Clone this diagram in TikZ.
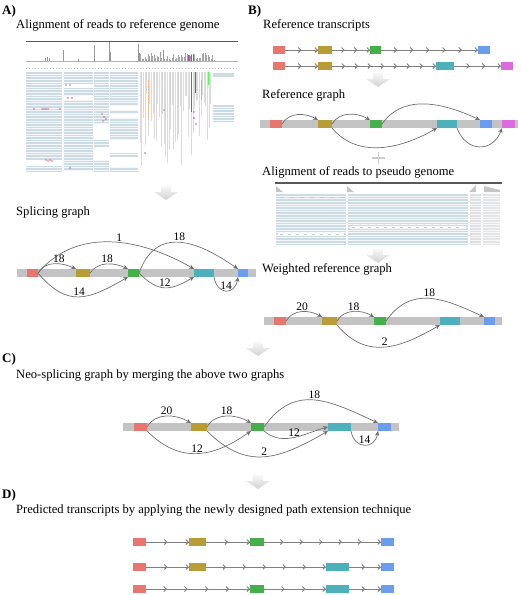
\documentclass[tikz,border=0pt]{standalone}
\usepackage{fontspec}
\setmainfont{Liberation Serif}
\usetikzlibrary{arrows.meta,decorations.markings}
\definecolor{exred}{HTML}{E8766E}
\definecolor{exgold}{HTML}{B89C36}
\definecolor{exgreen}{HTML}{45B04A}
\definecolor{excyan}{HTML}{4DB1BC}
\definecolor{exblue}{HTML}{6A9CF0}
\definecolor{expink}{HTML}{DE6BDE}
\definecolor{bargray}{HTML}{C3C3C3}
\definecolor{arcgray}{HTML}{707070}
\definecolor{readblue}{HTML}{CCDBE4}
\begin{document}
\begin{tikzpicture}[x=1pt,y=-1pt,
  ex/.style={minimum height=8pt,inner sep=0pt,outer sep=0pt},
  bar/.style={fill=bargray},
  arc/.style={arcgray,line width=0.7pt,-{Stealth[length=5pt,width=4.5pt]}},
  wt/.style={text=black,font=\fontsize{11.5}{11.5}\selectfont,inner sep=1pt},
  ttl/.style={anchor=base west,font=\fontsize{12.6}{12.6}\selectfont,inner sep=0pt},
  lbl/.style={anchor=base west,font=\fontsize{13}{13}\selectfont\bfseries,inner sep=0pt},
  tline/.style={draw=gray,line width=0.9pt},
  chev/.style={postaction={decorate,decoration={markings,
    mark=between positions #1 and 1 step #1 with {\arrow[gray]{Straight Barb[length=2.5pt,width=5pt]}}}}},
  downarr/.style={top color=gray!6,bottom color=gray!35,draw=none},
  stripe/.style={white!80!readblue,line width=0.4pt}]
\useasboundingbox (0,0) rectangle (520,595);

\node[lbl] (labA) at (2,14) {A)};
\node[ttl] (ttlA) at (16,28) {Alignment of reads to reference genome};
\node[ttl] (ttlAs) at (16,215) {Splicing graph};
\node[lbl] (labB) at (248,14) {B)};
\node[ttl] (ttlBt) at (263,28) {Reference transcripts};
\node[ttl] (ttlBg) at (262,98) {Reference graph};
\node[ttl] (ttlBa) at (262,175) {Alignment of reads to pseudo genome};
\node[ttl] (ttlBw) at (262,272) {Weighted reference graph};
\node[lbl] (labC) at (2,362) {C)};
\node[ttl] (ttlC) at (16,378) {Neo-splicing graph by merging the above two graphs};
\node[lbl] (labD) at (2,498) {D)};
\node[ttl] (ttlD) at (16,513) {Predicted transcripts by applying the newly designed path extension technique};

\foreach \cx/\ty in {166/186,378/73,378/249,258/342,258/475}
  \shade[downarr] (\cx-5,\ty) -- (\cx+5,\ty) -- (\cx+5,\ty+6) -- (\cx+12,\ty+6)
    -- (\cx,\ty+14) -- (\cx-12,\ty+6) -- (\cx-5,\ty+6) -- cycle;

\draw[gray!70!black,line width=1pt] (26,41) -- (238,41);
\draw[gray!60,line width=0.4pt] (26,61) -- (238,61);
\foreach \xx/\yt in {63/50,94/45,109/42,110/52,138/44,139/53,45/58,47/57,49/58,78/59,160/52,163/50}
  \draw[gray!80,line width=0.8pt] (\xx,61) -- (\xx,\yt);
\pgfmathsetseed{7}
\foreach \xx in {140.5,142,...,214} {
  \pgfmathsetmacro\yt{60-7*rnd}
  \draw[gray!70,line width=0.8pt] (\xx,61) -- (\xx,\yt);
}
\foreach \xx/\cc in {188/violet,189.5/red,191/violet,193/violet}
  \draw[\cc!70,line width=0.8pt] (\xx,61) -- (\xx,55);
\draw[gray!50,dash pattern=on 1pt off 2pt] (26,68) -- (238,68);
\fill[readblue] (26,72) rectangle (62,172);
\fill[readblue] (63.5,72) rectangle (92.5,170);
\fill[readblue] (94,72) rectangle (108.5,172);
\fill[readblue] (110,72) rectangle (137.5,172);
\fill[readblue] (213,73) rectangle (234,77);
\fill[readblue] (213,105) rectangle (234,123);
\foreach \yy in {74,76.6,...,172}
  \draw[stripe] (26,\yy) -- (138,\yy);
\foreach \yy in {107,109.6,...,123}
  \draw[stripe] (213,\yy) -- (234,\yy);
\fill[white] (94,124) rectangle (108.5,140);
\fill[white] (94,147) rectangle (108.5,160);
\fill[white] (110,140) rectangle (137.5,153);
\fill[white] (110,157) rectangle (137.5,167);
\fill[white] (26,160) rectangle (62,166);
\fill[white] (63.5,84) rectangle (92.5,88);
\fill[white] (63.5,96) rectangle (92.5,100);
\fill[white] (110,106) rectangle (137.5,110);
\fill[white] (110,114) rectangle (137.5,118);
\pgfmathsetseed{11}
\foreach \xx in {140,141.6,...,212} {
  \pgfmathsetmacro\yb{90+80*rnd}
  \draw[gray!28,line width=0.35pt] (\xx,72) -- (\xx,\yb);
}
\draw[violet!70,line width=1pt] (191,72) -- (191,112);
\draw[green!70!black,line width=1pt] (195,72) -- (195,93);
\draw[orange!70,line width=1pt] (201,80) -- (201,100);
\draw[green!70,line width=1pt] (208,72) -- (208,85);
\draw[orange!60,line width=1pt,dash pattern=on 2pt off 1pt] (148,80) -- (148,120);
\foreach \xx/\yy in {66/85,70/85,68/98,72/98,34/109,44/109,46/109,60/109,
  104/117,106/119,46/160,50/160,70/168,164/110,194/112,194/118,196/124,145/153}
  \fill[violet!60] (\xx,\yy) circle (0.9);
\foreach \xx/\yy in {42/109,48/109,102/114,48/161,52/161,103/121}
  \fill[red!60] (\xx,\yy) circle (0.9);

\node[ex,fill=exred,minimum width=12pt] (t1r) at (279,50) {};
\node[ex,fill=exgold,minimum width=14pt] (t1g) at (325,50) {};
\node[ex,fill=exgreen,minimum width=11pt] (t1n) at (375.5,50) {};
\node[ex,fill=exblue,minimum width=12pt] (t1b) at (484,50) {};
\node[ex,fill=exred,minimum width=12pt] (t2r) at (279,66) {};
\node[ex,fill=exgold,minimum width=14pt] (t2g) at (325,66) {};
\node[ex,fill=excyan,minimum width=18pt] (t2c) at (445,66) {};
\node[ex,fill=expink,minimum width=12pt] (t2m) at (507,66) {};
\draw[tline,chev=0.5] (t1r) -- (t1g);
\draw[tline,chev=0.333] (t1g) -- (t1n);
\draw[tline,chev=0.1666] (t1n) -- (t1b);
\draw[tline,chev=0.5] (t2r) -- (t2g);
\draw[tline,chev=0.125] (t2g) -- (t2c);
\draw[tline,chev=0.333] (t2c) -- (t2m);

\fill[bar] (260,120) rectangle (518,128);
\node[ex,fill=exred,minimum width=12pt] (br) at (276,124) {};
\node[ex,fill=exgold,minimum width=14pt] (bg) at (325,124) {};
\node[ex,fill=exgreen,minimum width=12pt] (bn) at (376,124) {};
\node[ex,fill=excyan,minimum width=20pt] (bc) at (447,124) {};
\node[ex,fill=exblue,minimum width=12pt] (bb) at (486,124) {};
\node[ex,fill=expink,minimum width=13pt] (bm) at (508.5,124) {};
\draw[arc] (br.east) to[out=60,in=150] (bg.north west);
\draw[arc] (bg.east) to[out=60,in=150] (bn.north west);
\draw[arc] (bn.east) to[out=55,in=155] (bb.north west);
\draw[arc] (bg.south east) to[out=-50,in=-150] (bc.south west);
\draw[arc] (bc.south east) to[out=-70,in=-110,looseness=1.5] (bm.south west);

\draw[gray!40,line width=1.4pt] (372,158) -- (385,158) (378.5,152) -- (378.5,164);

\draw[gray!70!black,line width=1.2pt] (275,183) -- (502,183);
\fill[gray!45] (276,192) -- (276,186) -- (283,192) -- cycle;
\fill[gray!45] (347,192) -- (347,186) -- (354,192) -- cycle;
\fill[gray!45] (469,192) -- (476,185) -- (476,192) -- cycle;
\fill[gray!45] (484,192) -- (484,186) -- (500,190) -- (500,192) -- cycle;
\fill[readblue] (276,194) rectangle (346,245);
\fill[readblue] (348,194) rectangle (468,245);
\fill[gray!25] (470,194) rectangle (481,245);
\fill[gray!20] (483,194) rectangle (500,245);
\foreach \yy in {196,198.6,...,245}
  \draw[stripe] (276,\yy) -- (500,\yy);
\fill[white] (350,226) rectangle (466,229);
\fill[white] (278,233) rectangle (344,236);
\foreach \xx in {352,360,...,460}
  \draw[gray!45] (\xx,227.5) -- (\xx+3,227.5);
\foreach \xx in {280,288,...,340}
  \draw[gray!45] (\xx,234.5) -- (\xx+3,234.5);
\foreach \xx in {280,290,...,340}
  \draw[gray!45] (\xx,197) -- (\xx+4,197);

\fill[bar] (264,317) rectangle (502,325);
\node[ex,fill=exred,minimum width=12pt] (wr) at (280,321) {};
\node[ex,fill=exgold,minimum width=15pt] (wg) at (329.5,321) {};
\node[ex,fill=exgreen,minimum width=12pt] (wn) at (380,321) {};
\node[ex,fill=excyan,minimum width=20pt] (wc) at (450,321) {};
\node[ex,fill=exblue,minimum width=11pt] (wb) at (489.5,321) {};
\draw[arc] (wr.east) to[out=60,in=150] node[wt,above]{20} (wg.north west);
\draw[arc] (wg.east) to[out=60,in=150] node[wt,above]{18} (wn.north west);
\draw[arc] (wn.east) to[out=55,in=155,looseness=1.15] node[wt,above]{18} (wb.north west);
\draw[arc] (wg.south east) to[out=-50,in=-150,looseness=1.15] node[wt,above]{2} (wc.south west);

\fill[bar] (17,269) rectangle (256,277);
\node[ex,fill=exred,minimum width=11pt] (ar) at (32.5,273) {};
\node[ex,fill=exgold,minimum width=14pt] (ag) at (83,273) {};
\node[ex,fill=exgreen,minimum width=11pt] (an) at (133.5,273) {};
\node[ex,fill=excyan,minimum width=20pt] (ac) at (204,273) {};
\node[ex,fill=exblue,minimum width=10pt] (ab) at (243,273) {};
\draw[arc] (ar.east) to[out=50,in=150] node[wt,above,pos=.55]{1} (ac.north west);
\draw[arc] (ar.east) to[out=60,in=155] node[wt,above,pos=.6]{18} (ag.north west);
\draw[arc] (ag.east) to[out=55,in=155] node[wt,above]{18} (an.north west);
\draw[arc] (an.east) to[out=70,in=145,looseness=1.3] node[wt,above]{18} (ab.north west);
\draw[arc] (ar.east) to[out=-50,in=-150,looseness=1.3] node[wt,above]{14} (an.south west);
\draw[arc] (an.east) to[out=-45,in=-150,looseness=1.3] node[wt,above]{12} (ac.south west);
\draw[arc] (ac.south east) to[out=-80,in=-100,looseness=2] node[wt,above]{14} (ab.south west);

\fill[bar] (123,423) rectangle (399,431);
\node[ex,fill=exred,minimum width=13pt] (cr) at (140.5,427) {};
\node[ex,fill=exgold,minimum width=16pt] (cg) at (199,427) {};
\node[ex,fill=exgreen,minimum width=13pt] (cn) at (257.5,427) {};
\node[ex,fill=excyan,minimum width=23pt] (cc) at (339.5,427) {};
\node[ex,fill=exblue,minimum width=13pt] (cb) at (384.5,427) {};
\draw[arc] (cr.east) to[out=60,in=150] node[wt,above]{20} (cg.north west);
\draw[arc] (cg.east) to[out=60,in=150] node[wt,above]{18} (cn.north west);
\draw[arc] (cn.east) to[out=55,in=155,looseness=1.2] node[wt,above]{18} (cb.north west);
\draw[arc] (cr.south east) to[out=-45,in=-145,looseness=1.15] node[wt,above]{12} (cn.south west);
\draw[arc] (cg.south east) to[out=-45,in=-150,looseness=1.2] node[wt,above]{2} (cc.south west);
\draw[arc] (cn.south east) to[out=-40,in=-165] node[wt,above]{12} (cc.west);
\draw[arc] (cc.south east) to[out=-80,in=-100,looseness=1.8] node[wt,above]{14} (cb.south west);

\node[ex,fill=exred,minimum width=13pt] (d1r) at (139.5,542) {};
\node[ex,fill=exgold,minimum width=17pt] (d1g) at (197.5,542) {};
\node[ex,fill=exgreen,minimum width=14pt] (d1n) at (257,542) {};
\node[ex,fill=exblue,minimum width=13pt] (d1b) at (387.5,542) {};
\node[ex,fill=exred,minimum width=13pt] (d2r) at (139.5,567) {};
\node[ex,fill=exgold,minimum width=17pt] (d2g) at (197.5,567) {};
\node[ex,fill=excyan,minimum width=23pt] (d2c) at (337.5,567) {};
\node[ex,fill=exblue,minimum width=13pt] (d2b) at (387.5,567) {};
\node[ex,fill=exred,minimum width=13pt] (d3r) at (139.5,589) {};
\node[ex,fill=exgreen,minimum width=14pt] (d3n) at (257,589) {};
\node[ex,fill=excyan,minimum width=23pt] (d3c) at (337.5,589) {};
\node[ex,fill=exblue,minimum width=13pt] (d3b) at (387.5,589) {};
\draw[tline,chev=0.5] (d1r) -- (d1g);
\draw[tline,chev=0.5] (d1g) -- (d1n);
\draw[tline,chev=0.1666] (d1n) -- (d1b);
\draw[tline,chev=0.5] (d2r) -- (d2g);
\draw[tline,chev=0.1666] (d2g) -- (d2c);
\draw[tline,chev=0.5] (d2c) -- (d2b);
\draw[tline,chev=0.2] (d3r) -- (d3n);
\draw[tline,chev=0.333] (d3n) -- (d3c);
\draw[tline,chev=0.5] (d3c) -- (d3b);
\end{tikzpicture}
\end{document}
